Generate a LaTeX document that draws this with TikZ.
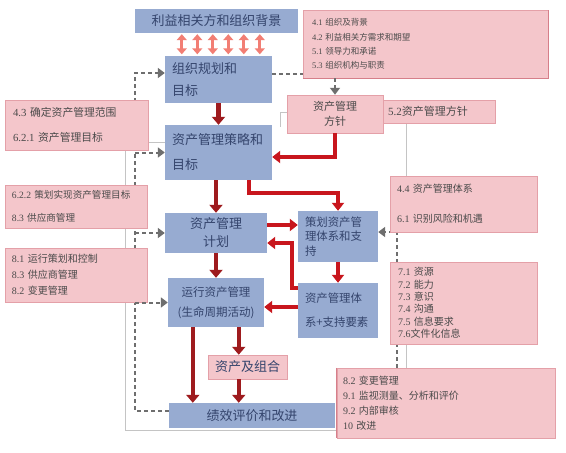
\documentclass[tikz,border=0pt]{standalone}
\usepackage{fontspec}
\setmainfont{Noto Sans CJK SC}
\newfontfamily\latf{Liberation Serif}
\newcommand\dg[1]{{\latf #1}}
\usetikzlibrary{arrows.meta,backgrounds,calc}
\definecolor{bluefill}{HTML}{97ABD1}
\definecolor{bluetext}{HTML}{34446C}
\definecolor{pinkfill}{HTML}{F4C6CB}
\definecolor{pinkedge}{HTML}{E4A0A8}
\definecolor{pinkdark}{HTML}{D67F8A}
\definecolor{pinktext}{HTML}{4A4A4A}
\definecolor{darkred}{HTML}{9E1B1E}
\definecolor{brightred}{HTML}{C8161D}
\definecolor{salmon}{HTML}{F27E74}
\definecolor{dashgray}{HTML}{6E6E6E}
\definecolor{framegray}{HTML}{C4C4C4}
\begin{document}
\begin{tikzpicture}[x=1pt,y=-1pt,
  bluebox/.style={fill=bluefill,text=bluetext,inner sep=0pt,align=center},
  pinkbox/.style={fill=pinkfill,draw=pinkedge,line width=0.5pt,text=pinktext,inner sep=0pt,align=left},
  dkarrow/.style={draw=darkred,line width=4.5pt,-{Triangle[width=13pt,length=8pt]}},
  rdarrow/.style={draw=brightred,line width=4pt,-{Triangle[width=12pt,length=8pt]}},
  dblarrow/.style={draw=salmon,line width=3pt,{Triangle[width=10pt,length=6pt]}-{Triangle[width=10pt,length=6pt]}},
  dasharrow/.style={draw=dashgray,line width=2pt,dash pattern=on 4pt off 3pt,-{Triangle[width=10pt,length=7pt]}},
  dashline/.style={draw=dashgray,line width=2pt,dash pattern=on 4pt off 3pt},
  frameline/.style={draw=framegray,line width=0.8pt},
  edgeline/.style={draw=pinkdark,line width=1pt}]
\useasboundingbox (0,0) rectangle (566,453);

% blue boxes
\node[bluebox,minimum width=163pt,minimum height=24pt,font=\fontsize{13}{16}\selectfont] (stake) at (216.5,21) {利益相关方和组织背景};
\node[bluebox,text width=93pt,inner xsep=7pt,minimum height=47pt,align=left,font=\fontsize{13}{22}\selectfont] (org) at (218.5,79.5) {组织规划和\\目标};
\node[bluebox,text width=93pt,inner xsep=7pt,minimum height=55pt,align=left,font=\fontsize{13}{25}\selectfont] (strat) at (218.5,152.5) {资产管理策略和\\目标};
\node[bluebox,minimum width=102pt,minimum height=40pt,font=\fontsize{13}{18}\selectfont] (plan) at (216,233) {资产管理\\计划};
\node[bluebox,text width=66pt,inner xsep=7pt,minimum height=51pt,align=left,font=\fontsize{11.4}{14.5}\selectfont] (design) at (338,236.5) {策划资产管\\理体系和支\\持};
\node[bluebox,text width=66pt,inner xsep=7pt,minimum height=55pt,align=left,font=\fontsize{11.4}{24}\selectfont] (sys) at (338,310.5) {资产管理体\\系+支持要素};
\node[bluebox,minimum width=96pt,minimum height=49pt,font=\fontsize{11.5}{20}\selectfont] (ops) at (216,302.5) {运行资产管理\\(生命周期活动)};
\node[bluebox,minimum width=166pt,minimum height=25pt,font=\fontsize{13}{16}\selectfont] (perf) at (252,415.5) {绩效评价和改进};

% pink boxes
\node[pinkbox,align=center,text=bluetext,minimum width=79pt,minimum height=24pt,font=\fontsize{13}{16}\selectfont] (asset) at (247.5,367) {资产及组合};
\node[pinkbox,align=center,minimum width=96pt,minimum height=38pt,font=\fontsize{11}{15}\selectfont] (policy) at (335,114) {资产管理\\方针};
\node[pinkbox,text width=102pt,inner xsep=5pt,minimum height=23pt,font=\fontsize{11}{14}\selectfont] (p52) at (439,111.5) {\dg{5.2}资产管理方针};
\node[pinkbox,text width=227pt,inner xsep=9pt,minimum height=68pt,font=\fontsize{8.5}{14.4}\selectfont] (p41) at (425.5,44) {\dg{4.1} 组织及背景\\\dg{4.2} 利益相关方需求和期望\\\dg{5.1} 领导力和承诺\\\dg{5.3} 组织机构与职责};
\node[pinkbox,text width=127pt,inner xsep=8pt,minimum height=50pt,font=\fontsize{10.8}{25}\selectfont] (p43) at (76.5,125) {\dg{4.3} 确定资产管理范围\\\dg{6.2.1} 资产管理目标};
\node[pinkbox,text width=128pt,inner xsep=7pt,minimum height=43pt,font=\fontsize{9.6}{23}\selectfont] (p622) at (76,206.5) {\dg{6.2.2} 策划实现资产管理目标\\\dg{8.3} 供应商管理};
\node[pinkbox,text width=128pt,inner xsep=7pt,minimum height=54pt,font=\fontsize{10}{16}\selectfont] (p81) at (76,275) {\dg{8.1} 运行策划和控制\\\dg{8.3} 供应商管理\\\dg{8.2} 变更管理};
\node[pinkbox,text width=133pt,inner xsep=7pt,minimum height=56pt,font=\fontsize{10}{30}\selectfont] (p44) at (463.5,204) {\dg{4.4} 资产管理体系\\\dg{6.1} 识别风险和机遇};
\node[pinkbox,text width=131pt,inner xsep=8pt,minimum height=82pt,font=\fontsize{10}{12.4}\selectfont] (p71) at (463.5,303) {\dg{7.1} 资源\\\dg{7.2} 能力\\\dg{7.3} 意识\\\dg{7.4} 沟通\\\dg{7.5} 信息要求\\\dg{7.6}文件化信息};
\node[pinkbox,text width=206pt,inner xsep=6pt,minimum height=70pt,font=\fontsize{10}{15}\selectfont] (p82) at (446,403) {\dg{8.2} 变更管理\\\dg{9.1} 监视测量、分析和评价\\\dg{9.2} 内部审核\\\dg{10} 改进};

% darker edges of two pink boxes
\draw[edgeline] (p82.north west) -- (p82.south west);
\draw[edgeline] (p41.south west) -- (p41.south east) -- (p41.north east);

\coordinate (lx) at (135,0);
\coordinate (rx) at (397,0);
\coordinate (fx) at (125,0);
\coordinate (gx) at (406,0);

% lines behind the boxes
\begin{scope}[on background layer]
\fill[white] (0,0) rectangle (566,453);
\draw[frameline] ([yshift=10.5pt]strat.west) -- ([yshift=10.5pt]strat.west -| fx) |- ([yshift=-27pt]p82.west);
\draw[frameline] ([yshift=2pt]policy.west) -- ++(-6,0) -- ++(0,15);
\draw[frameline] (p52.south -| gx) -- (p44.north -| gx);
\draw[frameline] (p71.south -| gx) -- (p82.north -| gx);
\draw[dasharrow] ([yshift=4.5pt]perf.west) -| ([yshift=6.5pt]org.west -| lx) -- ([yshift=6.5pt]org.west);
\draw[dasharrow] (p82.north -| rx) |- ([yshift=4.5pt]design.east);
\end{scope}

% double arrows
\foreach \s in {17,32.5,48,63.5,79,95}
  \draw[dblarrow,shorten <=1.5pt,shorten >=1pt] ([xshift=\s pt]org.north west) -- ([xshift=\s pt]org.north west |- stake.south);

% dark red arrows
\draw[dkarrow] (org.south) -- (strat.north);
\draw[dkarrow] (strat.south -| plan.north) -- (plan.north);
\draw[dkarrow] (plan.south) -- (ops.north);
\draw[dkarrow] ([xshift=25pt]ops.south west) -- ([xshift=25pt]ops.south west |- perf.north);
\draw[dkarrow] ([xshift=31pt]asset.north west |- ops.south) -- ([xshift=31pt]asset.north west);
\draw[dkarrow] ([xshift=31pt]asset.south west) -- ([xshift=31pt]asset.south west |- perf.north);

% bright red arrows
\draw[rdarrow] (policy.south) |- ([yshift=-4.5pt]strat.east);
\draw[rdarrow] ([xshift=30pt]strat.south) |- ([yshift=18pt]design.north) -- (design.north);
\draw[rdarrow] ([yshift=8pt]plan.east) -- ([yshift=8pt]plan.east -| design.west);
\draw[rdarrow] ([yshift=22.5pt]sys.west) -- ++(-6,0) |- ([yshift=-10pt]plan.east);
\draw[rdarrow] (design.south) -- (sys.north);
\draw[rdarrow] ([yshift=3.5pt]sys.west) -- ([yshift=3.5pt]sys.west -| ops.east);

% dashed gray
\draw[dasharrow] (strat.west -| lx) -- (strat.west);
\draw[dasharrow] (plan.west -| lx) -- (plan.west);
\draw[dasharrow] (ops.west -| lx) -- (ops.west);
\draw[dashline] ([yshift=5.5pt]org.east) -- ([yshift=5.5pt]org.east -| p41.west);
\draw[dasharrow] (p41.south -| policy.north) -- (policy.north);
\end{tikzpicture}
\end{document}
